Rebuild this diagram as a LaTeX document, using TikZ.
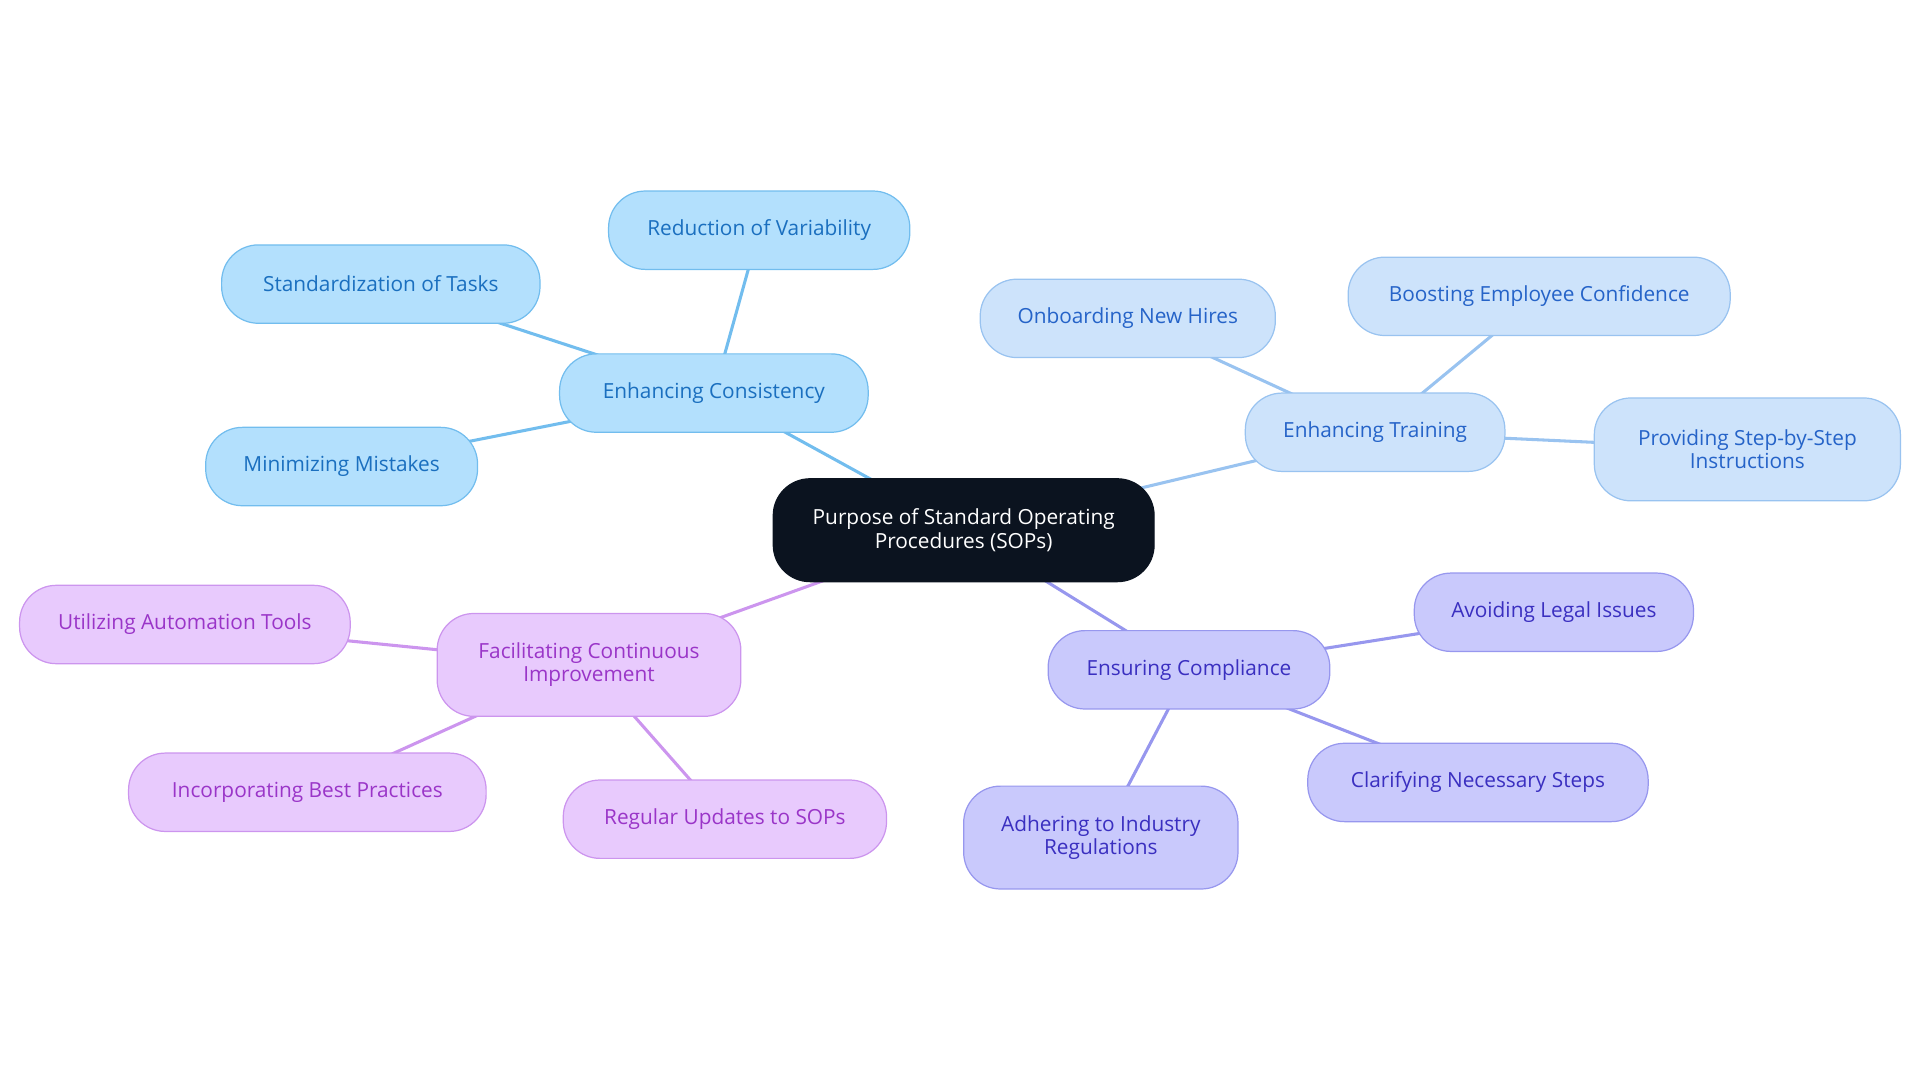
\documentclass[tikz,border=0pt]{standalone}
\usepackage{fontspec}
\setmainfont{Open Sans}
\usetikzlibrary{backgrounds}
\definecolor{rootc}{HTML}{0B131F}
\definecolor{cfill}{HTML}{B3E0FD}\definecolor{cline}{HTML}{72BDEE}\definecolor{ctext}{HTML}{1A6FBF}
\definecolor{tfill}{HTML}{CDE3FB}\definecolor{tline}{HTML}{99C3F0}\definecolor{ttext}{HTML}{2563C8}
\definecolor{pfill}{HTML}{C9C9FC}\definecolor{pline}{HTML}{9797EE}\definecolor{ptext}{HTML}{3A2FC0}
\definecolor{mfill}{HTML}{E8CAFD}\definecolor{mline}{HTML}{CC95EE}\definecolor{mtext}{HTML}{9A35C8}
\tikzset{
 box/.style={rounded corners=30pt,inner sep=0pt,align=center,font=\fontsize{17}{19}\selectfont,line width=1pt},
 cb/.style={box,fill=cfill,draw=cline,text=ctext},
 tb/.style={box,fill=tfill,draw=tline,text=ttext},
 pb/.style={box,fill=pfill,draw=pline,text=ptext},
 mb/.style={box,fill=mfill,draw=mline,text=mtext},
 rb/.style={box,fill=rootc,draw=rootc,text=white},
 ce/.style={draw=cline,line width=2.5pt},
 te/.style={draw=tline,line width=2.5pt},
 pe/.style={draw=pline,line width=2.5pt},
 me/.style={draw=mline,line width=2.5pt},
}
\newcommand{\nd}[7]{\node[#6,minimum width=#4pt,minimum height=#5pt] (#1) at (#2,#3) {#7};}
\begin{document}
\begin{tikzpicture}[x=1pt,y=-1pt]
\useasboundingbox (0,0) rectangle (1568,884);
\nd{root}{787}{433}{311}{84}{rb}{Purpose of Standard Operating\\Procedures (SOPs)}
\nd{c}{583}{321}{252}{64}{cb}{Enhancing Consistency}
\nd{c1}{620}{188}{246}{64}{cb}{Reduction of Variability}
\nd{c2}{311}{232}{260}{64}{cb}{Standardization of Tasks}
\nd{c3}{279}{381}{222}{64}{cb}{Minimizing Mistakes}
\nd{t}{1123}{353}{212}{64}{tb}{Enhancing Training}
\nd{t1}{921}{260}{241}{64}{tb}{Onboarding New Hires}
\nd{t2}{1257}{242}{312}{64}{tb}{Boosting Employee Confidence}
\nd{t3}{1427}{367}{250}{84}{tb}{Providing Step-by-Step\\Instructions}
\nd{p}{971}{547}{230}{64}{pb}{Ensuring Compliance}
\nd{p1}{1269}{500}{228}{64}{pb}{Avoiding Legal Issues}
\nd{p2}{1207}{639}{278}{64}{pb}{Clarifying Necessary Steps}
\nd{p3}{899}{684}{224}{84}{pb}{Adhering to Industry\\Regulations}
\nd{m}{481}{543}{248}{84}{mb}{Facilitating Continuous\\Improvement}
\nd{m1}{151}{510}{270}{64}{mb}{Utilizing Automation Tools}
\nd{m2}{251}{647}{292}{64}{mb}{Incorporating Best Practices}
\nd{m3}{592}{669}{264}{64}{mb}{Regular Updates to SOPs}
\begin{scope}[on background layer]
\draw[ce] (root.center)--(c.center) (c.center)--(c1.center) (c.center)--(c2.center) (c.center)--(c3.center);
\draw[te] (root.center)--(t.center) (t.center)--(t1.center) (t.center)--(t2.center) (t.center)--(t3.center);
\draw[pe] (root.center)--(p.center) (p.center)--(p1.center) (p.center)--(p2.center) (p.center)--(p3.center);
\draw[me] (root.center)--(m.center) (m.center)--(m1.center) (m.center)--(m2.center) (m.center)--(m3.center);
\end{scope}
\end{tikzpicture}
\end{document}
